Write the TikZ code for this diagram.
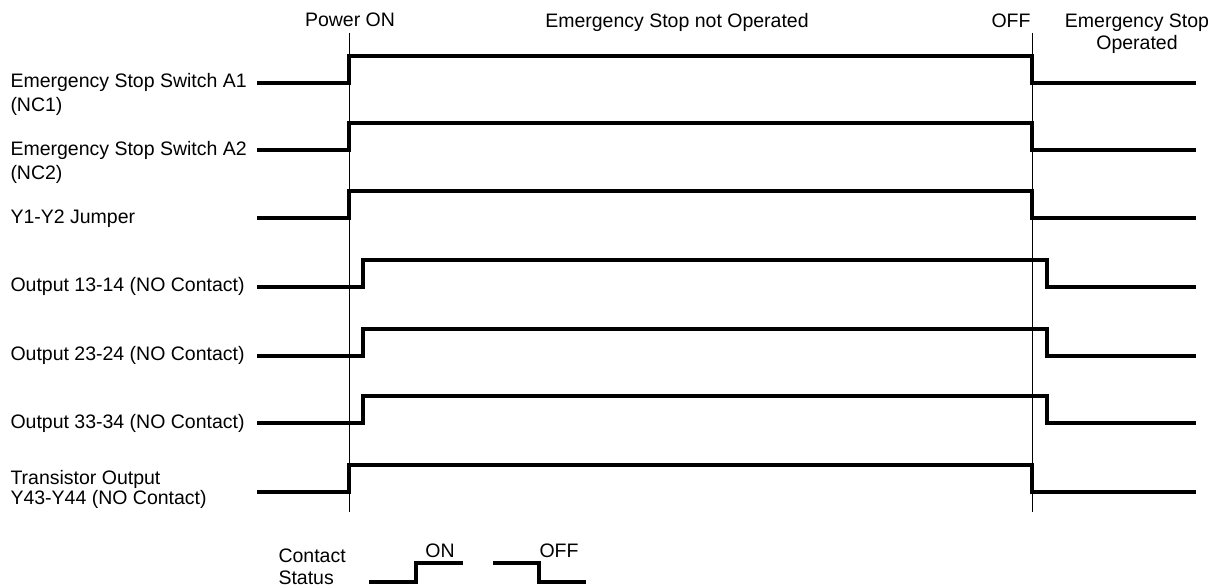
\documentclass[tikz,border=0pt]{standalone}
\usepackage{fontspec}
\setmainfont{Liberation Sans}

\begin{document}
\begin{tikzpicture}[x=1pt,y=-1pt,line width=1pt,
    lbl/.style={inner sep=0pt,align=left,font=\fontsize{19.5}{24.5}\selectfont},
    wave/.style={line width=4pt,line join=miter}]
    \useasboundingbox (0,0) rectangle (1217,588);

    % Time markers (Power ON / OFF)
    \draw (349,33) -- (349,512);
    \draw (1032,33) -- (1032,512);

    % Top labels
    \node[lbl,anchor=base] (pwron) at (350,27) {Power ON};
    \node[lbl,anchor=base] (notop) at (677,28) {Emergency Stop not Operated};
    \node[lbl,anchor=base east] (off) at (1031,28) {OFF};
    % (base of a two-line node = baseline of its last line)
    \node[lbl,align=center,anchor=base,font=\fontsize{19.5}{22}\selectfont] (esop) at (1137,50) {Emergency Stop\\Operated};

    % Signal names
    \node[lbl,anchor=base west] (nca) at (10,112) {Emergency Stop Switch A1\\(NC1)};
    \node[lbl,anchor=base west] (ncb) at (10,179.5) {Emergency Stop Switch A2\\(NC2)};
    \node[lbl,anchor=base west] (jmp) at (10,223) {Y1-Y2 Jumper};
    \node[lbl,anchor=base west] (outa) at (10,291.5) {Output 13-14 (NO Contact)};
    \node[lbl,anchor=base west] (outb) at (10,360.5) {Output 23-24 (NO Contact)};
    \node[lbl,anchor=base west] (outc) at (10,428.5) {Output 33-34 (NO Contact)};
    \node[lbl,anchor=base west,font=\fontsize{19.5}{20}\selectfont] (trout) at (10,504) {Transistor Output\\Y43-Y44 (NO Contact)};

    % Waveforms: low level / rise / fall
    \foreach \y/\r/\f in {83/349/1032,150/349/1032,218/349/1032,287/363/1047,356/363/1047,423/363/1047,492/349/1032}
        \draw[wave] (257,\y) -- (\r,\y) -- (\r,\y-27) -- (\f,\y-27) -- (\f,\y) -- (1196,\y);

    % Contact status key
    \node[lbl,anchor=base west,font=\fontsize{19.5}{22}\selectfont] (status) at (278,584) {Contact\\Status};
    \draw[wave] (369,582) -- (416,582) -- (416,563) -- (463,563);
    \draw[wave] (493,563) -- (539,563) -- (539,582) -- (586,582);
    \node[lbl,anchor=base] (on) at (440,557) {ON};
    \node[lbl,anchor=base] (offkey) at (559,557) {OFF};

\end{tikzpicture}
\end{document}
